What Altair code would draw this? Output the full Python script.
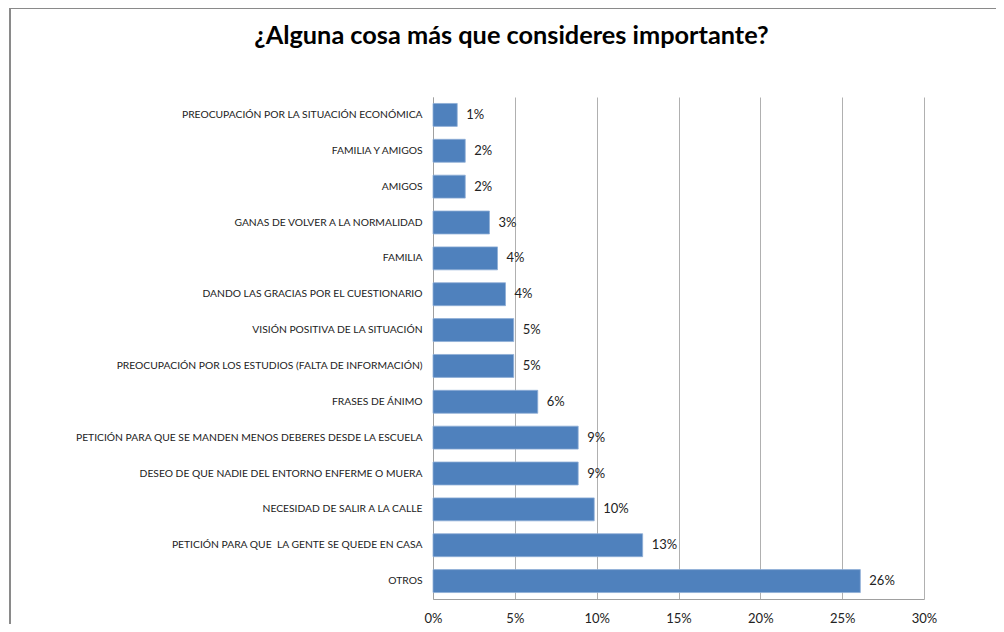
import altair as alt
import pandas as pd

categories = [
    "PREOCUPACIÓN POR LA SITUACIÓN ECONÓMICA",
    "FAMILIA Y AMIGOS\u00a0\u00a0",
    "AMIGOS",
    "GANAS DE VOLVER A LA NORMALIDAD",
    "FAMILIA",
    "DANDO LAS GRACIAS POR EL CUESTIONARIO\u00a0",
    "VISIÓN POSITIVA DE LA SITUACIÓN",
    "PREOCUPACIÓN POR LOS ESTUDIOS (FALTA DE INFORMACIÓN)",
    "FRASES DE ÁNIMO\u00a0",
    "PETICIÓN PARA QUE SE MANDEN MENOS DEBERES DESDE LA ESCUELA\u00a0",
    "DESEO DE QUE NADIE DEL ENTORNO ENFERME O MUERA",
    "NECESIDAD DE SALIR A LA CALLE",
    "PETICIÓN PARA QUE\u00a0\u00a0LA GENTE SE QUEDE EN CASA\u00a0",
    "OTROS",
]
values = [1.48, 1.97, 1.97, 3.45, 3.94, 4.43, 4.93, 4.93, 6.40, 8.87, 8.87, 9.85, 12.81, 26.11]
value_labels = ["1%", "2%", "2%", "3%", "4%", "4%", "5%", "5%", "6%", "9%", "9%", "10%", "13%", "26%"]
x_ticks = [0, 5, 10, 15, 20, 25, 30]
title_text = "¿Alguna cosa más que consideres importante?"

df = pd.DataFrame({"cat": categories, "val": values, "lab": value_labels})

FONT = "Lato"

x_enc = alt.X(
    "val:Q",
    scale=alt.Scale(domain=[0, 30], nice=False, zero=True),
    axis=alt.Axis(
        values=x_ticks,
        labelExpr="datum.value + '%'",
        title=None,
        grid=True,
        gridColor="#B0B0B0",
        gridWidth=1,
        domainColor="#A0A0A0",
        ticks=False,
        labelFlush=False,
        labelPadding=13,
        labelFontSize=13,
        labelFont=FONT,
        labelColor="#222222",
    ),
)
y_enc = alt.Y(
    "cat:N",
    sort=categories,
    scale=alt.Scale(paddingInner=0.36, paddingOuter=0.18),
    axis=alt.Axis(
        title=None,
        ticks=False,
        domainColor="#A0A0A0",
        labelPadding=11,
        labelFontSize=10.3,
        labelFont=FONT,
        labelColor="#222222",
        labelLimit=0,
    ),
)

bars = alt.Chart(df).mark_bar(color="#4F81BD", stroke="#8EADD6", strokeWidth=0.8).encode(
    x=x_enc, y=y_enc
)
text = alt.Chart(df).mark_text(
    align="left", baseline="middle", dx=9, fontSize=13, font=FONT, color="#222222"
).encode(x="val:Q", y=alt.Y("cat:N", sort=categories), text="lab:N")

one = pd.DataFrame({"a": [0]})
frame_left = alt.Chart(one).mark_rule(color="#8A8A8A", strokeWidth=2, clip=False).encode(
    x=alt.value(-423), y=alt.value(-90), y2=alt.value(600)
)
frame_top = alt.Chart(one).mark_rule(color="#8A8A8A", strokeWidth=2, clip=False).encode(
    x=alt.value(-424), x2=alt.value(700), y=alt.value(-89)
)

chart = alt.layer(frame_left, frame_top, bars, text).properties(
    width=491,
    height=502,
    padding={"left": 425, "top": 89, "right": 72, "bottom": 25},
    autosize=alt.AutoSizeParams(type="none"),
    title=alt.TitleParams(
        title_text,
        frame="group",
        anchor="middle",
        dx=-167,
        offset=-63,
        baseline="alphabetic",
        fontSize=25.3,
        font=FONT,
        fontWeight="bold",
        color="#000000",
    ),
).configure_view(stroke=None)

chart.save("out.html", embed_options={"renderer": "svg", "actions": False})
